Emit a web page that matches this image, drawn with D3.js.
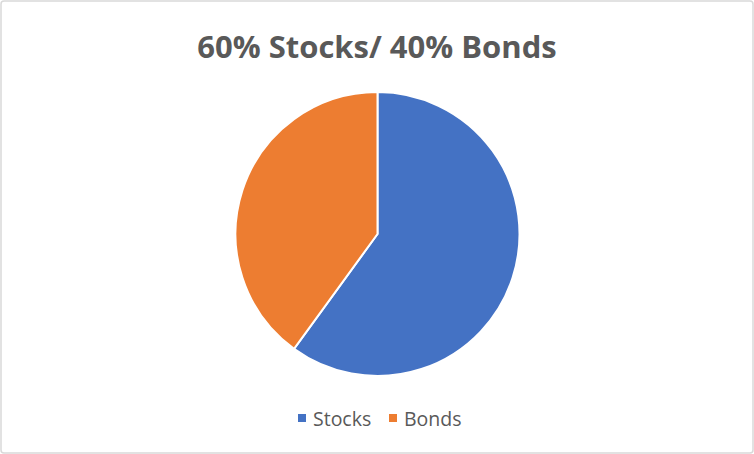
<!DOCTYPE html>
<html><head><meta charset="utf-8">
<script src="https://cdn.jsdelivr.net/npm/d3@7"></script>
<style>body{margin:0;background:#fff}</style>
</head><body>
<svg id="c" width="754" height="454"></svg>
<script>
const categories = ["Stocks", "Bonds"];
const values = [60, 40];
const colors = ["#4472C4", "#ED7D31"];
const title = "60% Stocks/ 40% Bonds";

const svg = d3.select("#c");
svg.append("rect").attr("x",1).attr("y",1).attr("width",752).attr("height",452)
  .attr("rx",3).attr("fill","#fff").attr("stroke","#d9d9d9").attr("stroke-width",1.5);

svg.append("text").attr("x",377).attr("y",58).attr("text-anchor","middle")
  .attr("font-family","'Open Sans', sans-serif").attr("font-weight","bold")
  .attr("font-size",31).attr("fill","#595959").text(title);

const cx = 377.5, cy = 234, r = 142;
const pie = d3.pie().sort(null).value(d => d)(values);
const arc = d3.arc().innerRadius(0).outerRadius(r);
const color = d3.scaleOrdinal().domain(categories).range(colors);
svg.append("g").attr("transform",`translate(${cx},${cy})`)
  .selectAll("path").data(pie).join("path")
  .attr("d",arc).attr("fill",(d,i)=>color(categories[i]))
  .attr("stroke","#fff").attr("stroke-width",2);

const leg = svg.append("g");
const lx = [298, 389];
categories.forEach((c,i)=>{
  leg.append("rect").attr("x",lx[i]).attr("y",414).attr("width",8).attr("height",8).attr("fill",color(c));
  leg.append("text").attr("x",lx[i]+15).attr("y",426)
    .attr("font-family","'Open Sans', sans-serif").attr("font-size",19.5).attr("fill","#595959").text(c);
});
</script>
</body></html>
